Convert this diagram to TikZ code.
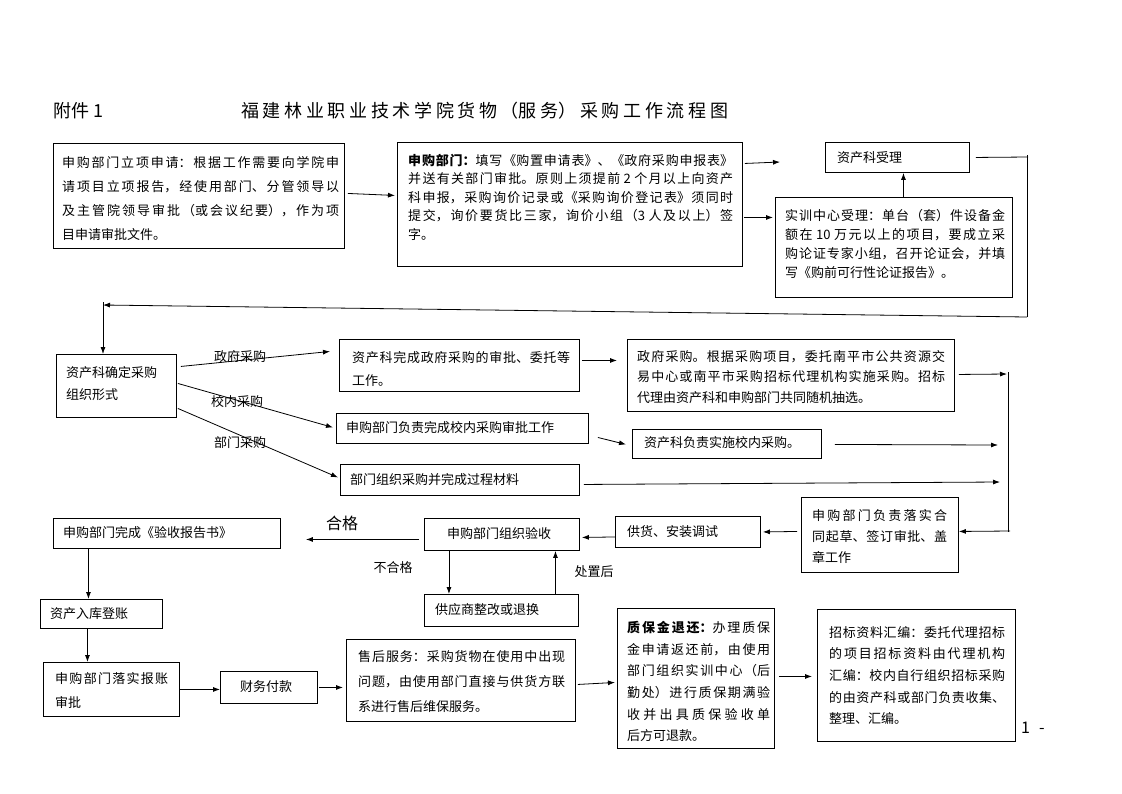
\documentclass[tikz,border=0pt]{standalone}
\usepackage{fontspec}
\setmainfont{Noto Sans CJK SC}
\usetikzlibrary{arrows.meta}
\XeTeXlinebreaklocale "zh"
\XeTeXlinebreakskip=0pt plus 4pt
\newcommand\myfs[1]{\fontsize{13}{#1}\selectfont}
\tikzset{
  box/.style={draw, line width=0.9pt, inner sep=0pt, anchor=north west},
  para/.style={inner sep=0pt, anchor=north west, align=justify, text width=#1},
  one/.style={inner sep=0pt, anchor=west, font=\myfs{13}},
  lbl/.style={inner sep=0pt, font=\myfs{13}},
  arr/.style={draw, line width=0.8pt, -{Latex[length=7pt,width=5pt]}},
  ln/.style={draw, line width=0.8pt},
}
\begin{document}
\begin{tikzpicture}[x=1pt,y=-1pt]
\useasboundingbox (0,0) rectangle (1122,793);
\fill[white] (0,0) rectangle (1122,793);
% titles
\node[inner sep=0pt, anchor=west, font=\fontsize{18}{18}\selectfont] (t0) at (53,111) {附件 1};
\node[inner sep=0pt, anchor=west, text width=487pt, align=justify, font=\fontsize{18}{18}\selectfont] (t1) at (241,111) {\parfillskip=0pt 福建林业职业技术学院货物（服务）采购工作流程图\par};
% boxes
\node[box, minimum width=291pt, minimum height=105pt] (A) at (53,143) {};
\node[para=277pt, font=\myfs{24}] (At) at (62,156) {申购部门立项申请：根据工作需要向学院申\linebreak 请项目立项报告，经使用部门、分管领导以\linebreak 及主管院领导审批（或会议纪要），作为项\linebreak 目申请审批文件。};
\node[box, minimum width=345pt, minimum height=124pt] (B) at (397,142) {};
\node[para=325pt, font=\myfs{18.5}] (Bt) at (408,154) {\textbf{申购部门：}填写《购置申请表》、《政府采购申报表》\linebreak 并送有关部门审批。原则上须提前 2 个月以上向资产\linebreak 科申报，采购询价记录或《采购询价登记表》须同时\linebreak 提交，询价要货比三家，询价小组（3 人及以上）签\linebreak 字。};
\node[box, minimum width=144pt, minimum height=30pt] (C) at (825,142) {};
\node[one] (Ct) at (837,158) {资产科受理};
\node[box, minimum width=237pt, minimum height=100pt] (D) at (775,197) {};
\node[para=220pt, font=\myfs{19}] (Dt) at (785,209) {实训中心受理：单台（套）件设备金\linebreak 额在 10 万元以上的项目，要成立采\linebreak 购论证专家小组，召开论证会，并填\linebreak 写《购前可行性论证报告》。};
\node[box, minimum width=120pt, minimum height=63pt] (E) at (56,354) {};
\node[inner sep=0pt, anchor=north west, align=left, font=\myfs{22}] (Et) at (66,366) {资产科确定采购\\组织形式};
\node[box, minimum width=240pt, minimum height=52pt] (F) at (339,339) {};
\node[para=218pt, font=\myfs{23}] (Ft) at (352,351) {资产科完成政府采购的审批、委托等\linebreak 工作。};
\node[box, minimum width=327pt, minimum height=72pt] (G) at (627,339) {};
\node[para=308pt, font=\myfs{20.5}] (Gt) at (637,350) {政府采购。根据采购项目，委托南平市公共资源交\linebreak 易中心或南平市采购招标代理机构实施采购。招标\linebreak 代理由资产科和申购部门共同随机抽选。};
\node[box, minimum width=252pt, minimum height=30pt] (H) at (336,413) {};
\node[one] (Ht) at (346,428) {申购部门负责完成校内采购审批工作};
\node[box, minimum width=189pt, minimum height=29pt] (I) at (632,429) {};
\node[one] (It) at (644,443) {资产科负责实施校内采购。};
\node[box, minimum width=239pt, minimum height=31pt] (J) at (340,464) {};
\node[one] (Jt) at (350,480) {部门组织采购并完成过程材料};
\node[box, minimum width=157pt, minimum height=75pt] (K) at (801,497) {};
\node[para=135pt, font=\myfs{21}] (Kt) at (812,509) {申购部门负责落实合\linebreak 同起草、签订审批、盖\linebreak 章工作};
\node[box, minimum width=145pt, minimum height=31pt] (L) at (615,516) {};
\node[one] (Lt) at (627,532) {供货、安装调试};
\node[box, minimum width=155pt, minimum height=32pt] (M) at (424,518) {};
\node[one] (Mt) at (447,534) {申购部门组织验收};
\node[box, minimum width=227pt, minimum height=30pt] (N) at (53,518) {};
\node[one] (Nt) at (63,533) {申购部门完成《验收报告书》};
\node[box, minimum width=122pt, minimum height=29pt] (O) at (40,599) {};
\node[one] (Ot) at (50,614) {资产入库登账};
\node[box, minimum width=154pt, minimum height=32pt] (P) at (424,594) {};
\node[one] (Pt) at (435,610) {供应商整改或退换};
\node[box, minimum width=136pt, minimum height=54pt] (Q) at (43,662) {};
\node[para=113pt, font=\myfs{24}] (Qt) at (55,672) {申购部门落实报账\linebreak 审批};
\node[box, minimum width=97pt, minimum height=32pt] (R) at (220,671) {};
\node[one] (Rt) at (240,687) {财务付款};
\node[box, minimum width=229pt, minimum height=82pt] (S) at (346,639) {};
\node[para=207pt, font=\myfs{25}] (St) at (358,650) {售后服务：采购货物在使用中出现\linebreak 问题，由使用部门直接与供货方联\linebreak 系进行售后维保服务。};
\node[box, minimum width=157pt, minimum height=140pt] (T) at (617,608) {};
\node[para=143pt, font=\myfs{21.7}] (Tt) at (627,621) {\textbf{质保金退还：}办理质保\linebreak 金申请返还前，由使用\linebreak 部门组织实训中心（后\linebreak 勤处）进行质保期满验\linebreak 收并出具质保验收单\linebreak 后方可退款。};
\node[box, minimum width=198pt, minimum height=132pt] (U) at (817,609) {};
\node[para=176pt, font=\myfs{21.6}] (Ut) at (829,626) {招标资料汇编：委托代理招标\linebreak 的项目招标资料由代理机构\linebreak 汇编：校内自行组织招标采购\linebreak 的由资产科或部门负责收集、\linebreak 整理、汇编。};
\node[inner sep=0pt, anchor=west, font=\fontsize{16}{16}\selectfont] (pg) at (1021,728) {1\hspace{9pt}-};
% labels
\node[lbl] (l1t) at (240,357) {政府采购};
\node[lbl] (l2t) at (237,402) {校内采购};
\node[lbl] (l3t) at (240,443) {部门采购};
\node[inner sep=0pt, font=\fontsize{16}{16}\selectfont] (l4t) at (342,523) {合格};
\node[lbl] (l5t) at (393,568) {不合格};
\node[lbl] (l6t) at (594,572) {处置后};
% coordinates
\coordinate (cB1) at (780,162);
\coordinate (r0) at (1028,157);
\coordinate (r1) at (1027,155);
\coordinate (r2) at (1027,317);
\coordinate (lA) at (103,305);
\coordinate (lB) at (103,302);
\coordinate (g1) at (1007,374);
\coordinate (v1) at (1008,372);
\coordinate (v2) at (1008,532);
\coordinate (i1) at (998,445);
\coordinate (j1) at (1000,482);
\coordinate (k0) at (1010,531);
% connectors
\draw[arr] ([xshift=3pt,yshift=2.5pt]A.east) -- ([xshift=-2pt,yshift=9pt]B.west);
\draw[arr] ([xshift=2pt,yshift=41pt]B.east) -- (cB1);
\draw[arr] ([xshift=1pt,yshift=-13pt]B.east) -- ([xshift=-2pt,yshift=30pt]D.west);
\draw[arr] ([xshift=9.5pt]D.north) -- ([xshift=9.5pt]D.north |- C.south);
\draw[ln] ([xshift=6pt]C.east) -- (r0);
\draw[ln] (r1) -- (r2);
\draw[arr] (r2) -- (lA);
\draw[arr] (lB) -- (lB |- E.north);
\draw[arr] ([xshift=4pt,yshift=19.5pt]E.east) -- ([xshift=-9pt,yshift=14pt]F.west);
\draw[arr] ([xshift=1pt,yshift=2.5pt]E.east) -- ([xshift=-3pt,yshift=1pt]H.west);
\draw[arr] ([xshift=1pt,yshift=-22.5pt]E.east) -- ([xshift=-2pt,yshift=2.5pt]J.west);
\draw[arr] ([xshift=2pt,yshift=5pt]F.east) -- ([xshift=-10pt,yshift=15pt]G.west);
\draw[arr] ([xshift=4pt,yshift=1pt]G.east) -- (g1);
\draw[arr] ([xshift=9pt,yshift=-9pt]H.east) -- ([xshift=-6pt,yshift=-0.5pt]I.west);
\draw[arr] ([xshift=13pt,yshift=-0.5pt]I.east) -- (i1);
\draw[arr] ([xshift=4pt,yshift=-4.5pt]J.east) -- (j1);
\draw[ln] (v1) -- (v2);
\draw[arr] (k0) -- ([yshift=3.5pt]K.east);
\draw[arr] ([xshift=-4pt,yshift=3.5pt]K.west) -- ([xshift=2pt]L.east);
\draw[arr] ([yshift=-5pt]L.west) -- ([xshift=2pt,yshift=-3pt]M.east);
\draw[arr] ([xshift=-5pt,yshift=-5pt]M.west) -- ([xshift=25pt,yshift=-6pt]N.east);
\draw[arr] ([xshift=-53pt]M.south) -- ([xshift=-53pt]M.south |- P.north);
\draw[arr] ([xshift=54pt]P.north) -- ([xshift=54pt]P.north |- M.south);
\draw[arr] ([xshift=-78.5pt]N.south) -- ([xshift=-78.5pt]N.south |- O.north);
\draw[arr] ([xshift=-14pt]O.south) -- ([xshift=-14pt]O.south |- Q.north);
\draw[arr] (Q.east) -- (Q.east -| R.west);
\draw[arr] ([xshift=1pt]R.east) -- ([xshift=-3pt]R.east -| S.west);
\draw[arr] ([xshift=2pt,yshift=-4pt]S.east) -- ([xshift=-2pt,yshift=-4pt]T.west);
\draw[arr] ([xshift=4pt,yshift=2pt]T.east) -- ([xshift=-5pt,yshift=-1pt]U.west);
\end{tikzpicture}
\end{document}
